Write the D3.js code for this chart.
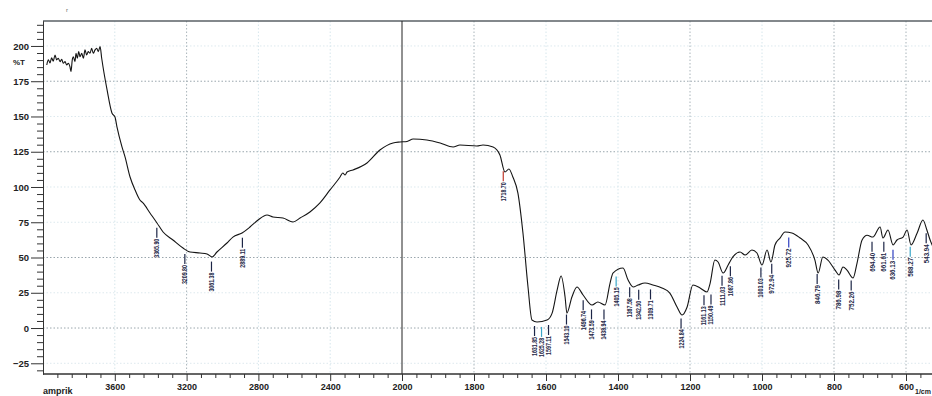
<!DOCTYPE html>
<html><head><meta charset="utf-8">
<script src="https://cdn.jsdelivr.net/npm/d3@7"></script>
<style>
html,body{margin:0;padding:0;background:#fff;overflow:hidden}
svg{display:block}
text{font-family:Arial,"Liberation Sans",sans-serif}
</style></head><body>
<svg id="c" width="932" height="396"></svg>
<script>
// ---- data ----
const wavenumbers = [3979,3970,3961,3952,3943,3933,3924,3915,3905,3896,3887,3877,3868,3859,3850,3844,3837,3831,3822,3816,3809,3801,3794,3784,3775,3766,3757,3748,3738,3729,3720,3710,3701,3692,3682,3673,3643,3616,3599,3588,3560,3543,3515,3487,3460,3443,3404,3365,3331,3276,3220,3181,3125,3086,3058,3031,2975,2942,2891,2847,2802,2752,2719,2663,2607,2568,2513,2457,2401,2345,2330,2317,2306,2273,2195,2123,2050,2011,1986,1969,1931,1894,1858,1839,1792,1775,1747,1728,1714,1703,1692,1678,1664,1650,1639,1625,1597,1583,1569,1558,1547,1542,1528,1514,1497,1472,1456,1436,1422,1414,1386,1372,1358,1344,1325,1303,1278,1256,1236,1222,1208,1192,1172,1153,1144,1131,1122,1108,1094,1081,1061,1047,1028,1014,1000,986,975,964,950,936,917,894,872,853,844,831,817,797,786,775,764,747,736,722,708,692,672,664,650,636,625,608,597,586,569,553,542,533,520];
const transmittance = [186.5,190.1,188.0,191.6,189.2,193.6,190.1,191.3,188.9,190.6,187.7,188.9,186.5,187.7,185.3,181.8,190.1,192.4,188.9,194.8,191.3,196.0,192.4,194.8,191.3,197.2,193.6,196.0,194.8,198.4,194.8,197.2,198.4,196.0,199.5,191.3,168.8,152.5,149.6,142.6,128.4,121.3,107.1,97.9,90.8,88.7,81.6,74.5,68.1,62.4,56.7,53.9,53.2,52.5,50.4,53.9,60.3,64.5,67.4,71.6,76.6,80.1,78.7,78.0,75.2,78.0,82.3,88.7,97.9,107.1,109.9,108.5,110.6,112.1,117.0,126.2,131.2,131.9,132.3,134.0,133.3,131.2,128.4,129.8,129.1,129.8,128.4,122.7,110.6,112.8,107.1,95.7,67.4,29.1,5.7,4.3,5.7,10.6,27.0,36.9,22.0,10.6,22.0,29.1,23.4,16.3,18.4,16.3,31.9,39.0,42.6,34.0,29.1,30.5,31.9,30.5,28.4,24.8,14.9,9.2,14.9,30.5,28.4,25.5,31.9,48.2,46.8,39.0,44.7,50.4,53.9,51.8,55.3,53.2,44.7,55.3,46.8,58.9,63.8,68.1,67.4,63.8,58.9,48.2,39.0,50.4,48.2,41.1,37.6,43.3,41.1,35.5,46.1,62.4,65.8,64.5,71.6,63.8,69.5,58.9,62.4,64.5,69.5,58.9,67.4,76.6,69.5,62.4,55.0];
const yTickValues = [-25,0,25,50,75,100,125,150,175,200];
const xTickValues = [3600,3200,2800,2400,2000,1800,1600,1400,1200,1000,800,600];
const peakWavenumbers = [3365.90,3209.80,3061.38,2889.11,1718.70,1631.85,1625.28,1597.11,1543.10,1496.74,1473.59,1438.94,1405.15,1367.58,1342.50,1309.71,1224.84,1161.13,1150.49,1111.03,1087.86,1003.03,972.94,925.72,846.79,786.98,752.26,694.40,661.61,636.13,588.27,543.94];
const yAxisTitle = "%T";
const xAxisUnit = "1/cm";
const sampleName = "amprik";

// ---- scales ----
const svg = d3.select("#c");
const x = d3.scaleLinear().domain([4000,2000,400]).range([43,402,978]);
const y = d3.scaleLinear().domain([-32.6,217.7]).range([374,21]);
const W = 932;

const pts = wavenumbers.map((w,i)=>[w,transmittance[i]]);
function tAt(w){
  for(let i=0;i<pts.length-1;i++){
    const a=pts[i],b=pts[i+1];
    if(w<=a[0]&&w>=b[0]){const f=(a[0]-w)/(a[0]-b[0]);return a[1]+f*(b[1]-a[1]);}
  }
  return pts[pts.length-1][1];
}

// ---- grid ----
const g = svg.append("g");
const strongH = new Set([175,125,50,0]);
g.selectAll("line.hg").data(yTickValues).enter().append("line")
  .attr("x1",x(4000)).attr("x2",W).attr("y1",d=>y(d)).attr("y2",d=>y(d))
  .attr("stroke",d=>strongH.has(d)?"#9aa6ad":"#dde9ee")
  .attr("stroke-width",1).attr("stroke-dasharray","1.5,2");
const strongV = new Set([3200,1800,1200,800,600]);
g.selectAll("line.vg").data(xTickValues.filter(d=>d!==2000)).enter().append("line")
  .attr("x1",d=>x(d)).attr("x2",d=>x(d)).attr("y1",y(217.7)).attr("y2",y(-32.6))
  .attr("stroke",d=>strongV.has(d)?"#a9b4ba":"#d6e6ec")
  .attr("stroke-width",1).attr("stroke-dasharray","1.5,2");

// top border
svg.append("line").attr("x1",x(4000)).attr("x2",W).attr("y1",y(217.7)).attr("y2",y(217.7))
  .attr("stroke","#5a6066").attr("stroke-width",1.3);
// scale change line at 2000
svg.append("line").attr("x1",x(2000)).attr("x2",x(2000)).attr("y1",y(217.7)).attr("y2",y(-32.6))
  .attr("stroke","#222").attr("stroke-width",1);

// ---- spectrum ----
svg.append("defs").append("clipPath").attr("id","clip").append("rect")
  .attr("x",x(4000)).attr("y",0).attr("width",W-x(4000)).attr("height",396);
svg.append("path").datum(pts).attr("clip-path","url(#clip)")
  .attr("fill","none").attr("stroke","#141414").attr("stroke-width",1.1)
  .attr("d",d3.line().x(d=>x(d[0])).y(d=>y(d[1])).curve(d3.curveMonotoneX));

// ---- axes ----
const yMinor = d3.range(-30,216,5).filter(v=>v%25!==0);
const ax = svg.append("g").attr("transform",`translate(${x(4000)},0)`);
ax.call(d3.axisLeft(y).tickValues(yTickValues).tickSize(12).tickSizeOuter(0).tickPadding(2).tickFormat(d3.format("d")));
ax.append("g").call(d3.axisLeft(y).tickValues(yMinor).tickSize(6).tickSizeOuter(0).tickFormat(""));
ax.selectAll("path.domain").attr("stroke","#333");
ax.selectAll("line").attr("stroke","#333");
ax.selectAll("text").attr("font-size","9.5px").attr("font-weight","bold").attr("fill","#222");

const xMinor = d3.range(4000,2000,-80).concat(d3.range(2000,399,-40)).filter(v=>!xTickValues.includes(v)&&v!==4000);
const bx = svg.append("g").attr("transform",`translate(0,${y(-32.6)})`);
bx.call(d3.axisBottom(x).tickValues(xTickValues).tickSize(7).tickSizeOuter(0).tickPadding(3).tickFormat(d3.format("d")));
bx.append("g").call(d3.axisBottom(x).tickValues(xMinor).tickSize(4).tickSizeOuter(0).tickFormat(""));
bx.selectAll("path.domain").attr("stroke","#333").attr("d",`M${x(4000)},0H${W}`);
bx.selectAll("line").attr("stroke","#333");
bx.selectAll("text").attr("font-size","9px").attr("font-weight","bold").attr("fill","#222");

// ---- text ----
svg.append("text").attr("x",13).attr("y",65).attr("font-size","8px").attr("font-weight","bold").attr("fill","#222").text(yAxisTitle);
svg.append("text").attr("x",43).attr("y",394).attr("font-size","9px").attr("font-weight","bold").attr("fill","#222").text(sampleName);
svg.append("text").attr("x",931).attr("y",394).attr("text-anchor","end").attr("font-size","7px").attr("font-weight","bold").attr("fill","#222").text(xAxisUnit);
svg.append("text").attr("x",66).attr("y",12).attr("font-size","6px").attr("fill","#666").text("r");

// ---- peak labels ----
const labelColor = {1718.70:"#c0392b",1625.28:"#3aa6c8",1405.15:"#3aa6c8",588.27:"#3aa6c8",925.72:"#2f3fc0",636.13:"#2f3fc0"};
const pk = peakWavenumbers.map(w=>({w, x0:x(w), lx:x(w), cy:y(tAt(w))})).sort((a,b)=>a.x0-b.x0);
for(let i=1;i<pk.length;i++){ if(pk[i].lx-pk[i-1].lx<7) pk[i].lx=pk[i-1].lx+7; }
const pg = svg.append("g");
pk.forEach(p=>{
  const col = labelColor[p.w]||"#1c2546";
  const y1=p.cy+5, y2=p.cy+15;
  pg.append("line").attr("x1",p.lx).attr("x2",p.lx).attr("y1",y1).attr("y2",y2).attr("stroke",col).attr("stroke-width",1.2);
  pg.append("text").attr("transform",`translate(${p.lx},${y2+1}) rotate(-90)`)
    .attr("text-anchor","end").attr("dominant-baseline","central")
    .attr("font-size","6.5px").attr("font-weight","bold").attr("fill","#1c2546")
    .attr("textLength",19).attr("lengthAdjust","spacingAndGlyphs")
    .text(p.w.toFixed(2));
});
</script>
</body></html>
